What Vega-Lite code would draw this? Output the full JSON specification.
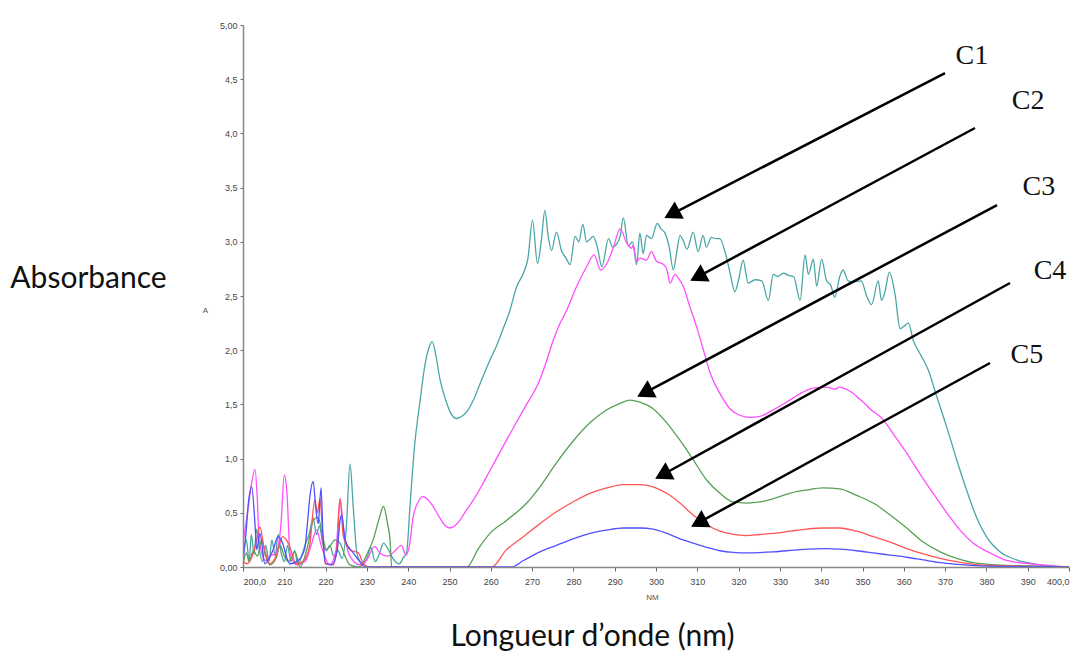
{
"$schema":"https://vega.github.io/schema/vega-lite/v6.json",
"width":826,"height":542,
"autosize":{"type":"none"},
"padding":{"left":243,"top":25,"right":14,"bottom":86},
"background":"white",
"config":{"view":{"stroke":null},"axis":{"grid":false}},
"datasets":{
"spectra":[
{"s":"C1","nm":200,"A":0.1},{"s":"C1","nm":200.8,"A":0.25},{"s":"C1","nm":201.5,"A":0.05},{"s":"C1","nm":202,"A":0.3},{"s":"C1","nm":202.7,"A":0.12},{"s":"C1","nm":203.3,"A":0.35},{"s":"C1","nm":204,"A":0.15},{"s":"C1","nm":204.7,"A":0.05},{"s":"C1","nm":205.5,"A":0.2},{"s":"C1","nm":206.3,"A":0.05},{"s":"C1","nm":207,"A":0.25},{"s":"C1","nm":207.8,"A":0.1},{"s":"C1","nm":208.5,"A":0.3},{"s":"C1","nm":209.3,"A":0.12},{"s":"C1","nm":210,"A":0.05},{"s":"C1","nm":210.8,"A":0.2},{"s":"C1","nm":211.6,"A":0.05},{"s":"C1","nm":212.5,"A":0.15},{"s":"C1","nm":213.3,"A":0.02},{"s":"C1","nm":214.2,"A":0.1},{"s":"C1","nm":215,"A":0.2},{"s":"C1","nm":216,"A":0.3},{"s":"C1","nm":217,"A":0.45},{"s":"C1","nm":217.8,"A":0.3},{"s":"C1","nm":218.5,"A":0.38},{"s":"C1","nm":219.3,"A":0.22},{"s":"C1","nm":220.2,"A":0.15},{"s":"C1","nm":221,"A":0.2},{"s":"C1","nm":222,"A":0.1},{"s":"C1","nm":223,"A":0.15},{"s":"C1","nm":224,"A":0.08},{"s":"C1","nm":225,"A":0.35},{"s":"C1","nm":225.9,"A":0.95},{"s":"C1","nm":226.7,"A":0.55},{"s":"C1","nm":227.5,"A":0.15},{"s":"C1","nm":228.3,"A":0.05},{"s":"C1","nm":229,"A":0.02},{"s":"C1","nm":230,"A":0.08},{"s":"C1","nm":231,"A":0.18},{"s":"C1","nm":232,"A":0.05},{"s":"C1","nm":233,"A":0.12},{"s":"C1","nm":234,"A":0.22},{"s":"C1","nm":235.2,"A":0.16},{"s":"C1","nm":236.3,"A":0.08},{"s":"C1","nm":237.2,"A":0.04},{"s":"C1","nm":237.9,"A":0.03},{"s":"C1","nm":238.7,"A":0.08},{"s":"C1","nm":239.6,"A":0.13},{"s":"C1","nm":240.5,"A":0.6},{"s":"C1","nm":241.5,"A":1.1},{"s":"C1","nm":242.9,"A":1.54},{"s":"C1","nm":244,"A":1.85},{"s":"C1","nm":245,"A":2.02},{"s":"C1","nm":245.8,"A":2.08},{"s":"C1","nm":246.7,"A":1.95},{"s":"C1","nm":247.7,"A":1.73},{"s":"C1","nm":249,"A":1.55},{"s":"C1","nm":250.3,"A":1.42},{"s":"C1","nm":251.7,"A":1.37},{"s":"C1","nm":253,"A":1.39},{"s":"C1","nm":254.5,"A":1.45},{"s":"C1","nm":255.8,"A":1.54},{"s":"C1","nm":257.5,"A":1.7},{"s":"C1","nm":259.8,"A":1.91},{"s":"C1","nm":261.5,"A":2.05},{"s":"C1","nm":263,"A":2.2},{"s":"C1","nm":264.5,"A":2.35},{"s":"C1","nm":266.3,"A":2.59},{"s":"C1","nm":267.9,"A":2.71},{"s":"C1","nm":269,"A":2.85},{"s":"C1","nm":270.1,"A":3.2},{"s":"C1","nm":271.3,"A":2.8},{"s":"C1","nm":272.2,"A":3.0},{"s":"C1","nm":273.1,"A":3.29},{"s":"C1","nm":273.9,"A":3.05},{"s":"C1","nm":274.7,"A":2.92},{"s":"C1","nm":275.9,"A":3.09},{"s":"C1","nm":277.1,"A":2.92},{"s":"C1","nm":278.2,"A":2.85},{"s":"C1","nm":279.2,"A":2.79},{"s":"C1","nm":280.4,"A":3.05},{"s":"C1","nm":281.3,"A":3.0},{"s":"C1","nm":282.3,"A":3.16},{"s":"C1","nm":283.2,"A":3.0},{"s":"C1","nm":284.8,"A":3.05},{"s":"C1","nm":285.8,"A":2.95},{"s":"C1","nm":286.9,"A":2.77},{"s":"C1","nm":288.5,"A":3.03},{"s":"C1","nm":289.5,"A":2.95},{"s":"C1","nm":290.5,"A":2.98},{"s":"C1","nm":291.3,"A":3.05},{"s":"C1","nm":292.1,"A":3.22},{"s":"C1","nm":293.3,"A":2.96},{"s":"C1","nm":294.3,"A":3.0},{"s":"C1","nm":295.3,"A":2.79},{"s":"C1","nm":296.1,"A":3.08},{"s":"C1","nm":296.9,"A":2.89},{"s":"C1","nm":297.7,"A":3.06},{"s":"C1","nm":298.9,"A":3.03},{"s":"C1","nm":300.3,"A":3.17},{"s":"C1","nm":301.2,"A":3.12},{"s":"C1","nm":302.2,"A":3.08},{"s":"C1","nm":303.2,"A":2.95},{"s":"C1","nm":304.2,"A":2.74},{"s":"C1","nm":305,"A":2.9},{"s":"C1","nm":305.8,"A":3.06},{"s":"C1","nm":306.7,"A":3.0},{"s":"C1","nm":307.5,"A":2.93},{"s":"C1","nm":309,"A":3.09},{"s":"C1","nm":310.2,"A":2.91},{"s":"C1","nm":311.4,"A":3.06},{"s":"C1","nm":312.2,"A":2.95},{"s":"C1","nm":313.4,"A":3.04},{"s":"C1","nm":314.5,"A":3.03},{"s":"C1","nm":315.4,"A":3.03},{"s":"C1","nm":317.1,"A":2.85},{"s":"C1","nm":318,"A":2.7},{"s":"C1","nm":319.1,"A":2.54},{"s":"C1","nm":320,"A":2.65},{"s":"C1","nm":321.1,"A":2.83},{"s":"C1","nm":322.3,"A":2.62},{"s":"C1","nm":324,"A":2.65},{"s":"C1","nm":325.6,"A":2.64},{"s":"C1","nm":327.2,"A":2.46},{"s":"C1","nm":328.4,"A":2.7},{"s":"C1","nm":329.5,"A":2.68},{"s":"C1","nm":330.9,"A":2.71},{"s":"C1","nm":332,"A":2.69},{"s":"C1","nm":333.3,"A":2.68},{"s":"C1","nm":334.9,"A":2.46},{"s":"C1","nm":336.1,"A":2.88},{"s":"C1","nm":336.9,"A":2.7},{"s":"C1","nm":338.1,"A":2.84},{"s":"C1","nm":338.9,"A":2.59},{"s":"C1","nm":340.1,"A":2.84},{"s":"C1","nm":341.3,"A":2.64},{"s":"C1","nm":342.3,"A":2.6},{"s":"C1","nm":343.3,"A":2.49},{"s":"C1","nm":344.5,"A":2.68},{"s":"C1","nm":345.3,"A":2.74},{"s":"C1","nm":346.5,"A":2.64},{"s":"C1","nm":347.7,"A":2.63},{"s":"C1","nm":349.7,"A":2.64},{"s":"C1","nm":351,"A":2.5},{"s":"C1","nm":352.2,"A":2.42},{"s":"C1","nm":353.8,"A":2.64},{"s":"C1","nm":354.6,"A":2.46},{"s":"C1","nm":355.5,"A":2.55},{"s":"C1","nm":356.5,"A":2.72},{"s":"C1","nm":357.9,"A":2.51},{"s":"C1","nm":359.1,"A":2.2},{"s":"C1","nm":360,"A":2.22},{"s":"C1","nm":361.1,"A":2.25},{"s":"C1","nm":362.3,"A":2.09},{"s":"C1","nm":363.9,"A":1.97},{"s":"C1","nm":365.9,"A":1.82},{"s":"C1","nm":368,"A":1.57},{"s":"C1","nm":370.4,"A":1.29},{"s":"C1","nm":372.8,"A":0.99},{"s":"C1","nm":375.2,"A":0.71},{"s":"C1","nm":377.6,"A":0.46},{"s":"C1","nm":380,"A":0.28},{"s":"C1","nm":383.3,"A":0.14},{"s":"C1","nm":387.3,"A":0.065},{"s":"C1","nm":393,"A":0.02},{"s":"C1","nm":400,"A":0},
{"s":"C2","nm":200,"A":0.22},{"s":"C2","nm":201.1,"A":0.5},{"s":"C2","nm":202,"A":0.75},{"s":"C2","nm":202.9,"A":0.9},{"s":"C2","nm":203.5,"A":0.6},{"s":"C2","nm":203.9,"A":0.25},{"s":"C2","nm":205.5,"A":0.06},{"s":"C2","nm":206.5,"A":0.1},{"s":"C2","nm":208,"A":0.13},{"s":"C2","nm":209.2,"A":0.4},{"s":"C2","nm":210,"A":0.85},{"s":"C2","nm":210.6,"A":0.71},{"s":"C2","nm":211.4,"A":0.13},{"s":"C2","nm":213,"A":0.02},{"s":"C2","nm":215,"A":0.05},{"s":"C2","nm":216.5,"A":0.2},{"s":"C2","nm":217.8,"A":0.34},{"s":"C2","nm":219,"A":0.19},{"s":"C2","nm":221,"A":0.02},{"s":"C2","nm":222.5,"A":0.15},{"s":"C2","nm":223.5,"A":0.63},{"s":"C2","nm":224.3,"A":0.37},{"s":"C2","nm":225.9,"A":0.1},{"s":"C2","nm":228.3,"A":0.02},{"s":"C2","nm":229.9,"A":0.06},{"s":"C2","nm":231.9,"A":0.19},{"s":"C2","nm":233.1,"A":0.13},{"s":"C2","nm":235.1,"A":0.1},{"s":"C2","nm":237.1,"A":0.16},{"s":"C2","nm":238.3,"A":0.2},{"s":"C2","nm":239.5,"A":0.11},{"s":"C2","nm":240.3,"A":0.2},{"s":"C2","nm":241.2,"A":0.46},{"s":"C2","nm":242.4,"A":0.6},{"s":"C2","nm":243.6,"A":0.65},{"s":"C2","nm":244.8,"A":0.62},{"s":"C2","nm":246,"A":0.56},{"s":"C2","nm":247.7,"A":0.45},{"s":"C2","nm":249,"A":0.38},{"s":"C2","nm":250.1,"A":0.36},{"s":"C2","nm":251.3,"A":0.38},{"s":"C2","nm":252.5,"A":0.43},{"s":"C2","nm":254,"A":0.52},{"s":"C2","nm":255.8,"A":0.62},{"s":"C2","nm":257.8,"A":0.75},{"s":"C2","nm":259.8,"A":0.89},{"s":"C2","nm":263.8,"A":1.17},{"s":"C2","nm":267.9,"A":1.45},{"s":"C2","nm":271.9,"A":1.73},{"s":"C2","nm":273.5,"A":1.9},{"s":"C2","nm":275.1,"A":2.09},{"s":"C2","nm":276.8,"A":2.25},{"s":"C2","nm":278.4,"A":2.37},{"s":"C2","nm":280.8,"A":2.59},{"s":"C2","nm":283.2,"A":2.77},{"s":"C2","nm":285,"A":2.88},{"s":"C2","nm":286.6,"A":2.74},{"s":"C2","nm":288.1,"A":2.8},{"s":"C2","nm":289.7,"A":2.95},{"s":"C2","nm":291.3,"A":3.12},{"s":"C2","nm":292.9,"A":2.99},{"s":"C2","nm":294.1,"A":2.94},{"s":"C2","nm":294.5,"A":2.97},{"s":"C2","nm":295.3,"A":2.82},{"s":"C2","nm":296.1,"A":2.85},{"s":"C2","nm":297.7,"A":2.83},{"s":"C2","nm":298.9,"A":2.91},{"s":"C2","nm":300.1,"A":2.82},{"s":"C2","nm":301.8,"A":2.79},{"s":"C2","nm":302.6,"A":2.75},{"s":"C2","nm":303.4,"A":2.62},{"s":"C2","nm":304.6,"A":2.7},{"s":"C2","nm":305.5,"A":2.66},{"s":"C2","nm":306.6,"A":2.59},{"s":"C2","nm":308.2,"A":2.4},{"s":"C2","nm":309.8,"A":2.22},{"s":"C2","nm":311.5,"A":2.0},{"s":"C2","nm":313.1,"A":1.79},{"s":"C2","nm":315.5,"A":1.6},{"s":"C2","nm":317.9,"A":1.46},{"s":"C2","nm":320.3,"A":1.4},{"s":"C2","nm":322.8,"A":1.38},{"s":"C2","nm":325.2,"A":1.39},{"s":"C2","nm":328.4,"A":1.45},{"s":"C2","nm":331.6,"A":1.52},{"s":"C2","nm":334.9,"A":1.6},{"s":"C2","nm":338.1,"A":1.65},{"s":"C2","nm":341.3,"A":1.66},{"s":"C2","nm":343.3,"A":1.64},{"s":"C2","nm":344.5,"A":1.66},{"s":"C2","nm":346,"A":1.64},{"s":"C2","nm":347.8,"A":1.6},{"s":"C2","nm":349,"A":1.56},{"s":"C2","nm":350.2,"A":1.52},{"s":"C2","nm":351.8,"A":1.46},{"s":"C2","nm":355,"A":1.36},{"s":"C2","nm":357.4,"A":1.23},{"s":"C2","nm":360.7,"A":1.05},{"s":"C2","nm":363.9,"A":0.86},{"s":"C2","nm":367.1,"A":0.68},{"s":"C2","nm":370.4,"A":0.5},{"s":"C2","nm":373.6,"A":0.34},{"s":"C2","nm":376.8,"A":0.22},{"s":"C2","nm":380.9,"A":0.13},{"s":"C2","nm":384.9,"A":0.06},{"s":"C2","nm":390.5,"A":0.03},{"s":"C2","nm":400,"A":0},
{"s":"C3","nm":200,"A":0.02},{"s":"C3","nm":200.8,"A":0.13},{"s":"C3","nm":201.5,"A":0.05},{"s":"C3","nm":202.5,"A":0.15},{"s":"C3","nm":203.5,"A":0.1},{"s":"C3","nm":204.5,"A":0.25},{"s":"C3","nm":205.5,"A":0.1},{"s":"C3","nm":206.5,"A":0.02},{"s":"C3","nm":208,"A":0.08},{"s":"C3","nm":209,"A":0.2},{"s":"C3","nm":210,"A":0.1},{"s":"C3","nm":211,"A":0.05},{"s":"C3","nm":212.6,"A":0.14},{"s":"C3","nm":213.8,"A":0},{"s":"C3","nm":215,"A":0.1},{"s":"C3","nm":216,"A":0.25},{"s":"C3","nm":217,"A":0.43},{"s":"C3","nm":218.2,"A":0.46},{"s":"C3","nm":219.2,"A":0.3},{"s":"C3","nm":220.2,"A":0.16},{"s":"C3","nm":221.2,"A":0.2},{"s":"C3","nm":222.2,"A":0.25},{"s":"C3","nm":223.5,"A":0.22},{"s":"C3","nm":224.7,"A":0.1},{"s":"C3","nm":225.9,"A":0.02},{"s":"C3","nm":228.3,"A":0},{"s":"C3","nm":229.9,"A":0.11},{"s":"C3","nm":231.5,"A":0.25},{"s":"C3","nm":233,"A":0.45},{"s":"C3","nm":234,"A":0.56},{"s":"C3","nm":235,"A":0.4},{"s":"C3","nm":235.6,"A":0.25},{"s":"C3","nm":236,"A":0},{"s":"C3","nm":254.2,"A":0},{"s":"C3","nm":257,"A":0.17},{"s":"C3","nm":259.8,"A":0.31},{"s":"C3","nm":263.8,"A":0.43},{"s":"C3","nm":268.7,"A":0.59},{"s":"C3","nm":271.9,"A":0.74},{"s":"C3","nm":275.9,"A":0.96},{"s":"C3","nm":279.9,"A":1.16},{"s":"C3","nm":284,"A":1.33},{"s":"C3","nm":288.1,"A":1.45},{"s":"C3","nm":291.3,"A":1.51},{"s":"C3","nm":293.7,"A":1.54},{"s":"C3","nm":296.1,"A":1.52},{"s":"C3","nm":299.3,"A":1.46},{"s":"C3","nm":302.6,"A":1.33},{"s":"C3","nm":305.8,"A":1.17},{"s":"C3","nm":309,"A":0.99},{"s":"C3","nm":312.3,"A":0.8},{"s":"C3","nm":315.5,"A":0.68},{"s":"C3","nm":318.7,"A":0.6},{"s":"C3","nm":321.9,"A":0.59},{"s":"C3","nm":325.2,"A":0.6},{"s":"C3","nm":328.4,"A":0.63},{"s":"C3","nm":332.4,"A":0.68},{"s":"C3","nm":336.5,"A":0.71},{"s":"C3","nm":340.5,"A":0.73},{"s":"C3","nm":344.5,"A":0.72},{"s":"C3","nm":348.6,"A":0.66},{"s":"C3","nm":352.6,"A":0.59},{"s":"C3","nm":356.7,"A":0.48},{"s":"C3","nm":360.7,"A":0.36},{"s":"C3","nm":364.7,"A":0.23},{"s":"C3","nm":368.8,"A":0.14},{"s":"C3","nm":372.8,"A":0.08},{"s":"C3","nm":376.8,"A":0.04},{"s":"C3","nm":382.5,"A":0.02},{"s":"C3","nm":390,"A":0.01},{"s":"C3","nm":400,"A":0},
{"s":"C4","nm":200,"A":0.05},{"s":"C4","nm":201,"A":0.03},{"s":"C4","nm":202.5,"A":0.13},{"s":"C4","nm":203.3,"A":0.25},{"s":"C4","nm":204.1,"A":0.37},{"s":"C4","nm":205,"A":0.2},{"s":"C4","nm":205.7,"A":0.1},{"s":"C4","nm":206.5,"A":0.03},{"s":"C4","nm":208,"A":0.1},{"s":"C4","nm":209.6,"A":0.28},{"s":"C4","nm":210.5,"A":0.25},{"s":"C4","nm":211.3,"A":0.19},{"s":"C4","nm":212.9,"A":0.03},{"s":"C4","nm":214.5,"A":0.05},{"s":"C4","nm":216.1,"A":0.19},{"s":"C4","nm":217.4,"A":0.62},{"s":"C4","nm":218,"A":0.5},{"s":"C4","nm":218.6,"A":0.63},{"s":"C4","nm":219.3,"A":0.3},{"s":"C4","nm":219.9,"A":0.03},{"s":"C4","nm":221.8,"A":0.02},{"s":"C4","nm":222.8,"A":0.2},{"s":"C4","nm":223.5,"A":0.63},{"s":"C4","nm":224.3,"A":0.28},{"s":"C4","nm":225.9,"A":0.16},{"s":"C4","nm":228,"A":0.13},{"s":"C4","nm":229.1,"A":0.03},{"s":"C4","nm":230.7,"A":0},{"s":"C4","nm":260.2,"A":0},{"s":"C4","nm":263.8,"A":0.16},{"s":"C4","nm":267.9,"A":0.28},{"s":"C4","nm":271.9,"A":0.4},{"s":"C4","nm":275.9,"A":0.51},{"s":"C4","nm":279.9,"A":0.6},{"s":"C4","nm":284,"A":0.68},{"s":"C4","nm":288.1,"A":0.73},{"s":"C4","nm":292.1,"A":0.76},{"s":"C4","nm":296.1,"A":0.76},{"s":"C4","nm":299.3,"A":0.74},{"s":"C4","nm":302.6,"A":0.68},{"s":"C4","nm":305.8,"A":0.59},{"s":"C4","nm":309,"A":0.48},{"s":"C4","nm":312.3,"A":0.39},{"s":"C4","nm":315.5,"A":0.33},{"s":"C4","nm":318.7,"A":0.3},{"s":"C4","nm":321.9,"A":0.29},{"s":"C4","nm":325.2,"A":0.3},{"s":"C4","nm":328.4,"A":0.31},{"s":"C4","nm":332.4,"A":0.33},{"s":"C4","nm":336.5,"A":0.35},{"s":"C4","nm":340.5,"A":0.36},{"s":"C4","nm":344.5,"A":0.36},{"s":"C4","nm":348.6,"A":0.33},{"s":"C4","nm":352.6,"A":0.28},{"s":"C4","nm":356.7,"A":0.23},{"s":"C4","nm":360.7,"A":0.17},{"s":"C4","nm":364.7,"A":0.12},{"s":"C4","nm":368.8,"A":0.08},{"s":"C4","nm":372.8,"A":0.05},{"s":"C4","nm":378.4,"A":0.02},{"s":"C4","nm":386,"A":0.01},{"s":"C4","nm":400,"A":0},
{"s":"C5","nm":200,"A":0.05},{"s":"C5","nm":200.7,"A":0.3},{"s":"C5","nm":201.3,"A":0.59},{"s":"C5","nm":202.1,"A":0.74},{"s":"C5","nm":202.9,"A":0.4},{"s":"C5","nm":203.3,"A":0.16},{"s":"C5","nm":204.1,"A":0.31},{"s":"C5","nm":205.3,"A":0.03},{"s":"C5","nm":206.3,"A":0.08},{"s":"C5","nm":207.3,"A":0.16},{"s":"C5","nm":208.5,"A":0.28},{"s":"C5","nm":209.6,"A":0.22},{"s":"C5","nm":210.5,"A":0.1},{"s":"C5","nm":211.3,"A":0.03},{"s":"C5","nm":213,"A":0.05},{"s":"C5","nm":214.9,"A":0.16},{"s":"C5","nm":215.6,"A":0.4},{"s":"C5","nm":216.2,"A":0.65},{"s":"C5","nm":217,"A":0.79},{"s":"C5","nm":217.6,"A":0.55},{"s":"C5","nm":218.2,"A":0.4},{"s":"C5","nm":218.9,"A":0.73},{"s":"C5","nm":219.4,"A":0.25},{"s":"C5","nm":220.1,"A":0.03},{"s":"C5","nm":221.5,"A":0.02},{"s":"C5","nm":222.8,"A":0.15},{"s":"C5","nm":223.5,"A":0.43},{"s":"C5","nm":223.9,"A":0.48},{"s":"C5","nm":224.7,"A":0.25},{"s":"C5","nm":226.7,"A":0.13},{"s":"C5","nm":228.3,"A":0.05},{"s":"C5","nm":229.5,"A":0},{"s":"C5","nm":265,"A":0},{"s":"C5","nm":267.9,"A":0.06},{"s":"C5","nm":271.9,"A":0.14},{"s":"C5","nm":275.9,"A":0.2},{"s":"C5","nm":279.9,"A":0.26},{"s":"C5","nm":284,"A":0.31},{"s":"C5","nm":288.1,"A":0.34},{"s":"C5","nm":292.1,"A":0.36},{"s":"C5","nm":296.1,"A":0.36},{"s":"C5","nm":299.3,"A":0.35},{"s":"C5","nm":302.6,"A":0.31},{"s":"C5","nm":305.8,"A":0.26},{"s":"C5","nm":309,"A":0.22},{"s":"C5","nm":312.3,"A":0.18},{"s":"C5","nm":315.5,"A":0.15},{"s":"C5","nm":318.7,"A":0.135},{"s":"C5","nm":321.9,"A":0.13},{"s":"C5","nm":328.4,"A":0.14},{"s":"C5","nm":334.9,"A":0.16},{"s":"C5","nm":341.3,"A":0.17},{"s":"C5","nm":344.5,"A":0.165},{"s":"C5","nm":348.6,"A":0.15},{"s":"C5","nm":352.6,"A":0.13},{"s":"C5","nm":356.7,"A":0.11},{"s":"C5","nm":360.7,"A":0.09},{"s":"C5","nm":364.7,"A":0.065},{"s":"C5","nm":368.8,"A":0.04},{"s":"C5","nm":372.8,"A":0.025},{"s":"C5","nm":378.4,"A":0.01},{"s":"C5","nm":386,"A":0.005},{"s":"C5","nm":400,"A":0}
],
"arrows":[
{"s":"C1","nm1":369.98,"A1":4.557,"nm2":303.83,"A2":3.256,"tnm":376.5,"tA":4.71},
{"s":"C2","nm1":377.24,"A1":4.05,"nm2":310.1,"A2":2.677,"tnm":390.1,"tA":4.3},
{"s":"C3","nm1":382.57,"A1":3.339,"nm2":297.26,"A2":1.607,"tnm":392.7,"tA":3.51},
{"s":"C4","nm1":385.71,"A1":2.62,"nm2":301.6,"A2":0.851,"tnm":395.4,"tA":2.73},
{"s":"C5","nm1":380.87,"A1":1.882,"nm2":310.31,"A2":0.409,"tnm":389.8,"tA":1.96}
]
},
"layer":[
{"data":{"name":"spectra"},
 "mark":{"type":"line","strokeWidth":1.3,"clip":true,"interpolate":"monotone"},
 "encoding":{
  "x":{"field":"nm","type":"quantitative","scale":{"domain":[200,400],"nice":false,"zero":false},
   "axis":{"zindex":1,"values":[200,210,220,230,240,250,260,270,280,290,300,310,320,330,340,350,360,370,380,390,400],
    "labelExpr":"datum.value == 200 ? '200,0' : datum.value == 400 ? '400,0' : format(datum.value, 'd')",
    "labelFontSize":9,"labelColor":"#444","labelFont":"Liberation Sans","labelPadding":6,
    "tickSize":4,"tickColor":"#666","domainColor":"#888","domainWidth":1.5,
    "title":"NM","titleFontSize":8,"titleFontWeight":"normal","titleColor":"#555","titleX":409,"titleY":30,"titleAlign":"center","titleBaseline":"middle"}},
  "y":{"field":"A","type":"quantitative","scale":{"domain":[0,5],"nice":false},
   "axis":{"zindex":1,"values":[0,0.5,1,1.5,2,2.5,3,3.5,4,4.5,5],
    "labelExpr":"datum.value == 0 ? '0,00' : datum.value == 5 ? '5,00' : replace(format(datum.value, '.1f'), '.', ',')",
    "labelFontSize":9,"labelColor":"#444","labelFont":"Liberation Sans","labelPadding":3,
    "tickSize":3,"tickColor":"#666","domainColor":"#888","domainWidth":1.5,
    "title":"A","titleFontSize":8,"titleFontWeight":"normal","titleColor":"#555","titleAngle":0,"titleX":-38,"titleY":285,"titleAlign":"center","titleBaseline":"middle"}},
  "color":{"field":"s","type":"nominal","scale":{"domain":["C1","C2","C3","C4","C5"],"range":["#4aa6a6","#ff4dff","#55a055","#ff5555","#5050ff"]},"legend":null}
 }},
{"data":{"name":"arrows"},
 "mark":{"type":"rule","strokeWidth":2.5,"color":"black"},
 "encoding":{
  "x":{"field":"nm1","type":"quantitative","axis":{"orient":"bottom","title":"Longueur d’onde (nm)","labels":false,"ticks":false,"domain":false,"titleFont":"Lato","titleFontSize":30,"titleFontWeight":"normal","titleColor":"#111","titleX":349,"titleY":69,"titleAlign":"center","titleBaseline":"middle"}},
  "y":{"field":"A1","type":"quantitative","axis":{"orient":"left","title":"Absorbance","labels":false,"ticks":false,"domain":false,"titleFont":"Lato","titleFontSize":30,"titleFontWeight":"normal","titleColor":"#111","titleAngle":0,"titleX":-155,"titleY":253,"titleAlign":"center","titleBaseline":"middle"}},
  "x2":{"field":"nm2"},
  "y2":{"field":"A2"}
 }},
{"data":{"name":"arrows"},
 "mark":{"type":"point","shape":"triangle-up","filled":true,"color":"black","opacity":1,"size":380,"angle":242},
 "encoding":{
  "x":{"field":"nm2","type":"quantitative","axis":null},
  "y":{"field":"A2","type":"quantitative","axis":null}
 }},
{"data":{"name":"arrows"},
 "mark":{"type":"text","font":"Liberation Serif","fontSize":28,"color":"#111","align":"center","baseline":"middle"},
 "encoding":{
  "x":{"field":"tnm","type":"quantitative","axis":null},
  "y":{"field":"tA","type":"quantitative","axis":null},
  "text":{"field":"s"}
 }}
],
"resolve":{"axis":{"x":"independent","y":"independent"}}
}
